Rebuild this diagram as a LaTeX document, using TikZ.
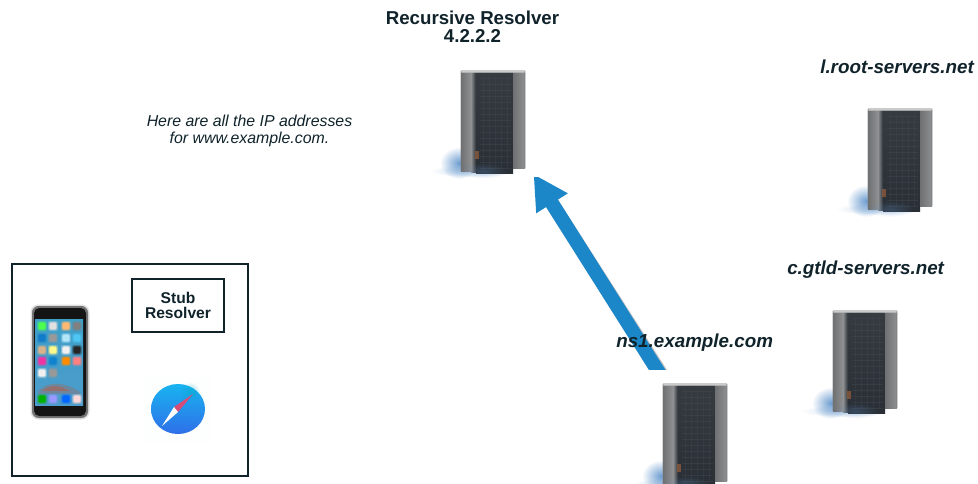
\documentclass[tikz,border=0pt]{standalone}
\usepackage{fontspec}
\setmainfont{Liberation Sans}
\usetikzlibrary{arrows.meta,fadings}
\definecolor{ink}{HTML}{10232B}
\definecolor{arrowblue}{HTML}{1B86C8}
\definecolor{srvdark}{HTML}{363B41}
\definecolor{srvdeep}{HTML}{2A2F36}
\definecolor{srvmesh}{HTML}{4A5057}
\definecolor{srvside}{HTML}{6E7072}
\definecolor{srvsidelight}{HTML}{8E9092}
\definecolor{puddle}{HTML}{5E93CC}
\definecolor{rust}{HTML}{8A5A3C}
\definecolor{wallsky}{HTML}{3E9FC8}
\definecolor{wallmid}{HTML}{6FB3BE}
\definecolor{wallbot}{HTML}{4D9CCB}
\definecolor{wallred}{HTML}{C0563A}
\definecolor{safarilight}{HTML}{18B4F0}
\definecolor{safarideep}{HTML}{2F6FE8}
\definecolor{safarired}{HTML}{D84A78}
\tikzfading[name=fadeblue, inner color=transparent!0, outer color=transparent!100]
\tikzset{
  x=0.75pt,y=-0.75pt,
  titlelabel/.style={font=\fontsize{14}{13.5}\selectfont\bfseries,text=ink,align=center,inner sep=0pt},
  hostlabel/.style={font=\fontsize{14.1}{14}\selectfont\bfseries\itshape,text=ink,align=center,inner sep=0pt},
  notelabel/.style={font=\fontsize{11.9}{12.75}\selectfont\itshape,text=ink,align=center,inner sep=0pt},
  framebox/.style={draw=ink,line width=1.3pt,fill=white},
  stublabel/.style={draw=ink,line width=1.3pt,fill=white,font=\fontsize{11.7}{11.8}\selectfont\bfseries,text=ink,align=center,inner sep=0pt,minimum width=69pt,minimum height=39.5pt},
  serverpic/.pic={
    \fill[white] (-23,-14) rectangle (103,106);
    % floor glow
    \fill[puddle,path fading=fadeblue,opacity=.9] (-2,92) ellipse (19 and 16);
    \fill[puddle,path fading=fadeblue,opacity=.35] (12,100) ellipse (44 and 6);
    % panels
    \shade[left color=srvside,right color=srvsidelight] (0,1) rectangle (10,100);
    \shade[left color=srvsidelight,right color=srvdeep] (10,1) rectangle (15,101);
    \shade[top color=srvdark,bottom color=srvdeep] (15,1) rectangle (52,102);
    \shade[left color=srvside,right color=srvsidelight] (52,1) rectangle (64,97);
    \fill[black!25,opacity=.8] (0,-1) rectangle (64,2);
    \foreach \gy in {7,13,...,97}{\draw[srvmesh,line width=.35pt,opacity=.35] (19,\gy) -- (50,\gy);}
    \foreach \gx in {22,28,...,48}{\draw[srvmesh,line width=.35pt,opacity=.25] (\gx,6) -- (\gx,98);}
    \fill[rust,opacity=.8] (14,80) rectangle (18,88);
    % soft edges
    \draw[black!55,line width=1.4pt,opacity=.28] (0,0) -- (0,100);
    \draw[black!55,line width=1.4pt,opacity=.28] (64,0) -- (64,97);
    \fill[puddle,opacity=.28,path fading=fadeblue] (22,100) ellipse (24 and 8);
  }
}
\newcommand{\appicon}[3]{%
  \fill[#3,opacity=.35,rounded corners=1.5pt] (#1-5,#2-5) rectangle (#1+5,#2+5);
  \fill[#3,rounded corners=1pt] (#1-3.6,#2-3.6) rectangle (#1+3.6,#2+3.6);}
\begin{document}
\begin{tikzpicture}
\useasboundingbox (0,0) rectangle (978,483);
\fill[white] (0,0) rectangle (978,483);

% arrow
\coordinate (arrowtail) at (662.9,379);
\coordinate (arrowtip) at (533.5,174);
\draw[black,opacity=.25,line width=10.5pt] (664.5,379) -- (553,205);
\draw[arrowblue,line width=10.5pt,-{Triangle[length=26pt,width=26pt]}] (arrowtail) -- (arrowtip);

% servers
\pic (resolverserver) at (461,71) {serverpic};
\pic (rootserver) at (868,109) {serverpic};
\pic (gtldserver) at (833,311) {serverpic};
\pic (nsserver) at (663,384) {serverpic};

% labels
\node[titlelabel] (resolverlabel) at (472.5,27) {Recursive Resolver\\4.2.2.2};
\node[hostlabel,anchor=west] (rootlabel) at (820,67) {l.root-servers.net};
\node[hostlabel,anchor=west] (gtldlabel) at (787,270) {c.gtld-servers.net};
\node[hostlabel,anchor=west] (nslabel) at (616,343) {ns1.example.com};
\node[notelabel] (notelabel) at (249.5,130.5) {Here are all the IP addresses\\for www.example.com.};

% client box
\draw[framebox] (12,264) rectangle (248,476);
\node[stublabel] (stub) at (178,305.5) {Stub\\Resolver};

% phone
\fill[black!50,opacity=.25,rounded corners=6pt] (30.5,304.5) rectangle (89.5,419.5);
\fill[black!65,opacity=.8,rounded corners=5pt] (32,306) rectangle (88,418);
\fill[black!92,rounded corners=4pt] (34,308) rectangle (86,416);
\shade[top color=wallsky,middle color=wallmid,bottom color=wallbot] (35,319) rectangle (83,405);
\fill[wallred,opacity=.28] (38,392) .. controls (46,380) and (66,382) .. (80,392) -- (80,394) -- (38,394) -- cycle;
\fill[wallred,opacity=.5] (42,391) .. controls (50,384) and (60,385) .. (70,391) -- cycle;
\foreach \ix/\iy/\ic in {
 42/326/green!70!white,53/326/black!12,66/326/orange!55!white,77/326/black!50,
 42/338/cyan!60!blue,53/338/black!40,66/338/cyan!30!white,77/338/cyan!70!white,
 42/350/brown!60!white,53/350/yellow!45,66/350/black!6,77/350/black!85,
 42/361/magenta!80!white,53/361/cyan!65!blue,66/361/orange!90!yellow,77/361/red!50!white,
 42/373/black!6,53/373/black!40,
 42/399/green!70!black,53/399/blue!40!white,66/399/blue!60!cyan,77/399/red!15!white}
 {\appicon{\ix}{\iy}{\ic}}

% browser icon
\fill[cyan!20,opacity=.04] (143,377) rectangle (210,442);
\shade[top color=safarilight,bottom color=safarideep] (178,409) ellipse (27 and 25);
\fill[cyan!70!green,opacity=.45,path fading=fadeblue] (190,392) circle (10);
\fill[safarired] (193,394) -- (178,412) -- (174,407) -- cycle;
\fill[white] (162,426) -- (178,412) -- (174,407) -- cycle;
\end{tikzpicture}
\end{document}
